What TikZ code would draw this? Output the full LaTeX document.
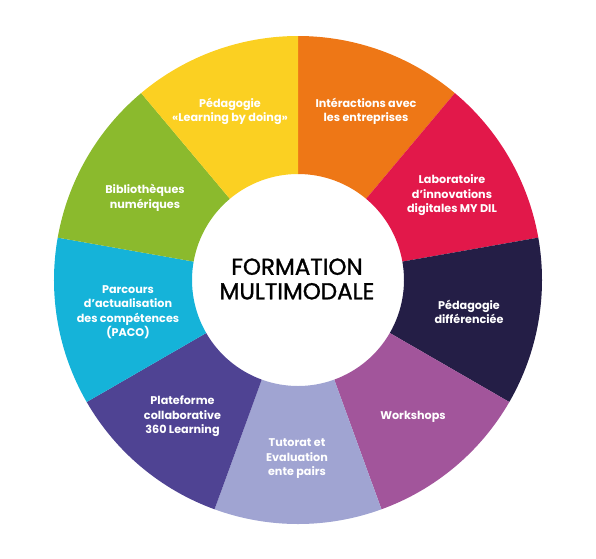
\documentclass[tikz,border=0pt]{standalone}
\usepackage{fontspec}
\setmainfont{Poppins}
\newfontfamily\centrefont[FakeBold=1.3]{Poppins}
\definecolor{cYellow}{HTML}{FBD022}
\definecolor{cOrange}{HTML}{EE7716}
\definecolor{cRed}{HTML}{E2184A}
\definecolor{cNavy}{HTML}{241E46}
\definecolor{cPurple}{HTML}{A2559B}
\definecolor{cLavender}{HTML}{A0A4D2}
\definecolor{cIndigo}{HTML}{4F4393}
\definecolor{cCyan}{HTML}{15B3D9}
\definecolor{cGreen}{HTML}{8BBA2D}
\tikzset{
  lbl/.style={text=white, align=center, inner sep=0pt, yshift=-1.8pt,
    font=\bfseries\fontsize{11.2}{14.3}\selectfont},
  ctr/.style={text=black, align=center, inner sep=0pt,
    font=\centrefont\fontsize{23}{24.5}\selectfont},
}
\newcommand{\segm}[3]{%
  \fill[#1] (#2:244pt) arc[start angle=#2, end angle=#3, radius=244pt]
    -- (#3:106pt) arc[start angle=#3, end angle=#2, radius=106pt] -- cycle;}
\begin{document}
\begin{tikzpicture}[x=1pt,y=1pt]
\useasboundingbox (-298,-278) rectangle (298,280);
\segm{cOrange}{50}{90}
\segm{cRed}{10}{50}
\segm{cNavy}{-30}{10}
\segm{cPurple}{-70}{-30}
\segm{cLavender}{-110}{-70}
\segm{cIndigo}{-150}{-110}
\segm{cCyan}{-190}{-150}
\segm{cGreen}{130}{170}
\segm{cYellow}{90}{130}
\node[ctr] (centre) at (-1,1) {FORMATION\\MULTIMODALE};
\node[lbl] (lbd) at (-68,170.5) {Pédagogie\\«Learning by doing»};
\node[lbl] (inter) at (68,170.5) {Intéractions avec\\les entreprises};
\node[lbl] (labo) at (154,86.5) {Laboratoire\\d’innovations\\digitales MY DIL};
\node[lbl] (diff) at (171,-30) {Pédagogie\\différenciée};
\node[lbl] (work) at (115,-135) {Workshops};
\node[lbl] (tuto) at (-1,-177) {Tutorat et\\Evaluation\\ente pairs};
\node[lbl] (plat) at (-115.5,-134.5) {Plateforme\\collaborative\\360 Learning};
\node[lbl] (paco) at (-170,-30.5) {Parcours\\d'actualisation\\des compétences\\(PACO)};
\node[lbl] (biblio) at (-153,84) {Bibliothèques\\numériques};
\end{tikzpicture}
\end{document}
